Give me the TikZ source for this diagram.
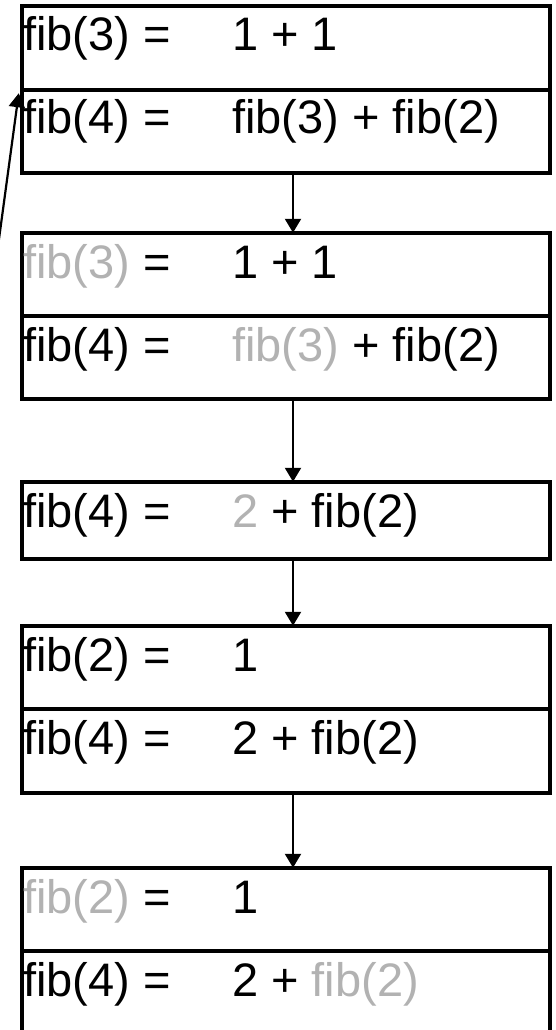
\documentclass[tikz,border=0pt]{standalone}
\usepackage{fontspec}
\setmainfont{Liberation Sans}
\usetikzlibrary{arrows.meta}
\definecolor{lg}{RGB}{178,178,178}
\begin{document}
\begin{tikzpicture}[x=1pt,y=-1pt,
  row/.style={draw=black,line width=4.5pt,rectangle,minimum width=528pt,inner sep=0pt,fill=none},
  txt/.style={anchor=base west,inner sep=0pt,font=\fontsize{47}{56}\selectfont},
  arr/.style={draw=black,line width=2.2pt,-{Triangle[width=16pt,length=14pt]}}]
\useasboundingbox (0,0) rectangle (556,1030);
\clip (0,0) rectangle (556,1030);
\fill[white] (0,0) rectangle (556,1030);
% box 1
\node[row,minimum height=84pt] (r1a) at (286,48) {};
\node[row,minimum height=83pt] (r1b) at (286,131.5) {};
% box 2
\node[row,minimum height=83pt] (r2a) at (286,274.5) {};
\node[row,minimum height=83pt] (r2b) at (286,357.5) {};
% box 3
\node[row,minimum height=77pt] (r3) at (286,520.5) {};
% box 4
\node[row,minimum height=83pt] (r4a) at (286,667.5) {};
\node[row,minimum height=84pt] (r4b) at (286,751) {};
% box 5
\node[row,minimum height=83pt] (r5a) at (286,909.5) {};
\node[row,minimum height=84pt] (r5b) at (286,993) {};
% texts
\node[txt] (t1a) at (23,51) {fib(3) =};
\node[txt] (t1a2) at (232,51) {1 + 1};
\node[txt] (t1b) at (23,134) {fib(4) =};
\node[txt] (t1b2) at (232,134) {fib(3) + fib(2)};
\node[txt] (t2a) at (23,278) {\textcolor{lg}{fib(3)} =};
\node[txt] (t2a2) at (232,278) {1 + 1};
\node[txt] (t2b) at (23,361) {fib(4) =};
\node[txt] (t2b2) at (232,361) {\textcolor{lg}{fib(3)} + fib(2)};
\node[txt] (t3) at (23,527) {fib(4) =};
\node[txt] (t32) at (232,527) {\textcolor{lg}{2} + fib(2)};
\node[txt] (t4a) at (23,671) {fib(2) =};
\node[txt] (t4a2) at (232,671) {1};
\node[txt] (t4b) at (23,754) {fib(4) =};
\node[txt] (t4b2) at (232,754) {2 + fib(2)};
\node[txt] (t5a) at (23,913) {\textcolor{lg}{fib(2)} =};
\node[txt] (t5a2) at (232,913) {1};
\node[txt] (t5b) at (23,996) {fib(4) =};
\node[txt] (t5b2) at (232,996) {2 + \textcolor{lg}{fib(2)}};
% arrows
\draw[arr] ([xshift=7pt]r1b.south) -- ([xshift=7pt,yshift=-2pt]r2a.north);
\draw[arr] ([xshift=7pt]r2b.south) -- ([xshift=7pt,yshift=-2pt]r3.north);
\draw[arr] ([xshift=7pt]r3.south) -- ([xshift=7pt,yshift=-2pt]r4a.north);
\draw[arr] ([xshift=7pt]r4b.south) -- ([xshift=7pt,yshift=-2pt]r5a.north);
\coordinate (back) at (-2.5,250);
\draw[arr] (back) -- ([xshift=-1pt,yshift=-1pt]r1a.south west);
\end{tikzpicture}
\end{document}
